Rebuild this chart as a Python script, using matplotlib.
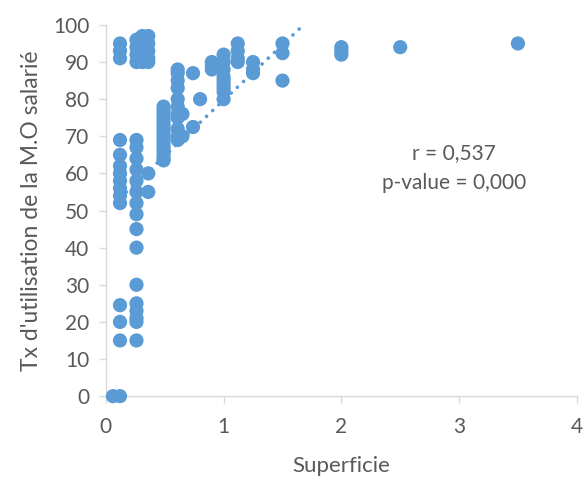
import matplotlib
matplotlib.use("Agg")
import matplotlib.pyplot as plt
import numpy as np

# Data (Superficie, Tx d'utilisation de la M.O salarié)
x_0 = [0.06, 0.12]
y_0 = [0, 0]
x_a = [0.12] * 14
y_a = [95, 93, 91, 69, 65, 62, 60, 58, 56, 54, 52, 24.5, 20, 15]
x_b = [0.26] * 20
y_b = [96, 94, 92, 90, 69, 67, 64, 61, 58, 55, 52, 49, 45, 40, 30, 25, 23, 21, 20, 15]
x_c = [0.31] * 6
y_c = [97, 96, 94, 92, 91, 90]
x_d = [0.36] * 7
y_d = [97, 95, 93, 91, 90, 60, 55]
x_e = [0.49] * 16
y_e = [78, 77, 76, 75, 74, 73, 72, 71, 70, 69, 68, 67, 66, 65, 64, 63.5]
x_f = [0.61] * 11
y_f = [88, 87, 85, 83, 80, 78, 76, 75, 72, 70, 69]
x_g = [0.65, 0.65, 0.74, 0.74, 0.8]
y_g = [76, 70, 87, 72.5, 80]
x_h = [0.9, 0.9, 0.9]
y_h = [90, 89, 88]
x_i = [1.0] * 9
y_i = [92, 90, 88, 86, 85, 84, 83, 82, 80]
x_j = [1.12] * 4
y_j = [95, 93, 91, 90]
x_k = [1.25] * 3
y_k = [90, 88, 87]
x_l = [1.5, 1.5, 1.5, 2.0, 2.0, 2.0, 2.5, 3.5]
y_l = [95, 92.4, 85, 94, 93, 92, 94, 95]

trend_slope = 29.9
trend_intercept = 49.8

x_ticks = [0, 1, 2, 3, 4]
y_ticks = [0, 10, 20, 30, 40, 50, 60, 70, 80, 90, 100]

xs = np.array(x_0 + x_a + x_b + x_c + x_d + x_e + x_f + x_g + x_h + x_i + x_j + x_k + x_l)
ys = np.array(y_0 + y_a + y_b + y_c + y_d + y_e + y_f + y_g + y_h + y_i + y_j + y_k + y_l)

plt.rcParams['font.family'] = ['Lato', 'DejaVu Sans']

fig = plt.figure(figsize=(5.85, 4.79), dpi=100)
ax = fig.add_axes([0.181, 0.173, 0.805, 0.775])

blue = '#5B9BD5'
grey = '#595959'
ax.scatter(xs, ys, s=105, color=blue, edgecolors='none', zorder=3, clip_on=False)

tx = np.array([x_a[0], xs.max()])
ax.plot(tx, trend_intercept + trend_slope * tx, color=blue, lw=2.6,
        linestyle=(0, (0.05, 2.3)), dash_capstyle='round', zorder=2)

ax.set_xlim(0, 4)
ax.set_ylim(0, 100)
ax.set_xticks(x_ticks)
ax.set_yticks(y_ticks)
ax.set_xticklabels([str(t) for t in x_ticks])
ax.set_yticklabels([str(t) for t in y_ticks])

for s in ['top', 'right']:
    ax.spines[s].set_visible(False)
for s in ['left', 'bottom']:
    ax.spines[s].set_color('#D9D9D9')
    ax.spines[s].set_linewidth(1.0)
ax.tick_params(axis='both', direction='out', length=5, width=1.0, color='#D9D9D9',
               labelcolor=grey, labelsize=15)
ax.tick_params(axis='x', pad=10)
ax.tick_params(axis='y', pad=7)

ax.set_xlabel('Superficie', color=grey, fontsize=16, labelpad=14)
ax.set_ylabel("Tx d'utilisation de la M.O salarié", color=grey, fontsize=16.5, labelpad=8)

ax.text(2.96, 65.5, 'r = 0,537', color=grey, fontsize=15, ha='center', va='center')
ax.text(2.96, 57.5, 'p-value = 0,000', color=grey, fontsize=15, ha='center', va='center')

fig.savefig('out.png', dpi=100)
